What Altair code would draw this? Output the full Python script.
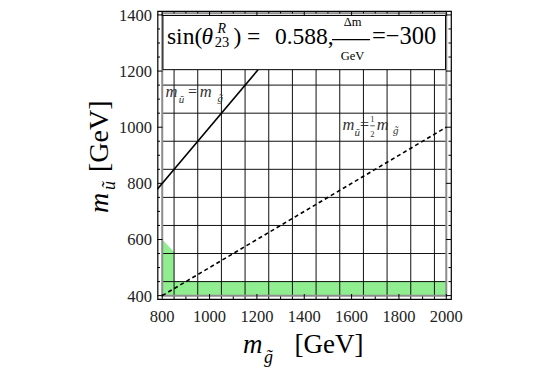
import altair as alt
import pandas as pd

# ---------------- data ----------------
X_DOMAIN = [780, 2020]
Y_DOMAIN = [388, 1414]

x_major = [800, 1000, 1200, 1400, 1600, 1800, 2000]
y_major = [400, 600, 800, 1000, 1200, 1400]
x_minor = [v for v in range(800, 2001, 50) if v not in x_major]
y_minor = [v for v in range(400, 1401, 50) if v not in y_major]

grid_x = [850, 950, 1050, 1150, 1250, 1350, 1450, 1550, 1650, 1750, 1850, 1950]
grid_y = [450, 550, 650, 750, 850, 950, 1050, 1150]
grid_x_span = [400, 1205]
grid_y_span = [800, 2000]

strip_x = [800, 2000]
strip_y = [400, 452]
corner_x = [800, 850]
corner_top = [600, 555]
corner_base = [400, 400]

equal_x = [780, 1205]
equal_y = [780, 1205]
half_x = [800, 2000]
half_y = [400, 1000]

outline_x = [800, 2000]
outline_y = [400, 1406]
box_x = [803, 1997]
box_y = [1205, 1398]

# box text: (text, x, y)
box_big = [("sin(", 820, 1295), (")", 1101, 1295), ("=", 1158, 1295),
           ("0.588,", 1276, 1295)]
box_big2 = [("=\u2212300", 1686, 1295)]
box_theta = [("\u03b8", 966, 1295)]
box_sup = [("R", 1034, 1337)]
box_sub = [("23", 1022, 1287)]
box_frac = [("\u0394m", 1604, 1361), ("GeV", 1604, 1238)]
frac_line_x = [1517, 1678]
frac_line_y = [1312, 1312]

# curve labels
lab_m = [("m", 814, 1109), ("m", 958, 1109), ("m", 1562, 989), ("m", 1706, 989)]
lab_eq = [("=", 909, 1109), ("=", 1635.5, 989)]
lab_sub = [("\u0169", 870, 1086), ("g\u0303", 1034, 1089),
           ("\u0169", 1612, 968), ("g\u0303", 1775, 975)]
lab_half = [("1", 1688, 1017), ("2", 1688, 964)]
half_bar_x = [1679, 1698]
half_bar_y = [1005, 1005]

# ---------------- chart ----------------
W, H = 293.5, 288
FONT = "Liberation Serif"
xs = alt.Scale(domain=X_DOMAIN, nice=False, zero=False)
ys = alt.Scale(domain=Y_DOMAIN, nice=False, zero=False)


def X(f="x"):
    return alt.X(f"{f}:Q", scale=xs, axis=None)


def Y(f="y"):
    return alt.Y(f"{f}:Q", scale=ys, axis=None)


GREEN = "#90ee90"

strip = alt.Chart(pd.DataFrame({"x": [strip_x[0]], "x2": [strip_x[1]],
                                "y": [strip_y[0]], "y2": [strip_y[1]]})).mark_rect(
    color=GREEN, opacity=1).encode(x=X(), x2="x2:Q", y=Y(), y2="y2:Q")

corner = alt.Chart(pd.DataFrame({"x": corner_x, "y": corner_top, "y2": corner_base})).mark_area(
    color=GREEN, opacity=1).encode(x=X(), y=Y(), y2="y2:Q")

vgrid = alt.Chart(pd.DataFrame({"x": grid_x, "y": grid_x_span[0], "y2": grid_x_span[1]})).mark_rule(
    color="#111", strokeWidth=1).encode(x=X(), y=Y(), y2="y2:Q")
hgrid = alt.Chart(pd.DataFrame({"y": grid_y, "x": grid_y_span[0], "x2": grid_y_span[1]})).mark_rule(
    color="#111", strokeWidth=1).encode(y=Y(), x=X(), x2="x2:Q")

outline = alt.Chart(pd.DataFrame({"x": [outline_x[0]], "x2": [outline_x[1]],
                                  "y": [outline_y[0]], "y2": [outline_y[1]]})).mark_rect(
    fillOpacity=0, stroke="#8c8c8c", strokeWidth=2).encode(x=X(), x2="x2:Q", y=Y(), y2="y2:Q")

equal_line = alt.Chart(pd.DataFrame({"x": equal_x, "y": equal_y})).mark_line(
    color="black", strokeWidth=1.6).encode(x=X(), y=Y())
half_line = alt.Chart(pd.DataFrame({"x": half_x, "y": half_y})).mark_line(
    color="black", strokeWidth=1.6, strokeDash=[4, 3]).encode(x=X(), y=Y())

box = alt.Chart(pd.DataFrame({"x": [box_x[0]], "x2": [box_x[1]],
                              "y": [box_y[0]], "y2": [box_y[1]]})).mark_rect(
    fill="white", stroke="black", strokeWidth=1).encode(x=X(), x2="x2:Q", y=Y(), y2="y2:Q")


def texts(rows, size, style="normal", align="left", color="black"):
    df = pd.DataFrame(rows, columns=["t", "x", "y"])
    return alt.Chart(df).mark_text(font=FONT, fontSize=size, fontStyle=style, align=align,
                                   baseline="alphabetic", color=color).encode(
        x=X(), y=Y(), text="t:N")


def seg(xv, yv, width=1.2, color="black"):
    return alt.Chart(pd.DataFrame({"x": xv, "y": yv})).mark_line(
        color=color, strokeWidth=width).encode(x=X(), y=Y())


LAB = "#333"
layers = [
    strip, corner, vgrid, hgrid, outline, equal_line, half_line, box,
    texts(box_big, 23.5), texts(box_big2, 24.5), texts(box_theta, 23.5, "italic"),
    texts(box_sup, 14, "italic"), texts(box_sub, 14.5),
    texts(box_frac, 12.5, align="center"), seg(frac_line_x, frac_line_y, 1.4),
    texts(lab_m, 16.5, "italic", color=LAB), texts(lab_eq, 16, color=LAB),
    texts(lab_sub, 11, "italic", color=LAB), texts(lab_half, 8.5, align="center", color=LAB),
    seg(half_bar_x, half_bar_y, 0.8, LAB),
]


# inward frame ticks on all four sides
def xticks(vals, length):
    dfv = pd.DataFrame({"v": vals})
    return [
        alt.Chart(dfv).mark_rule(color="black", strokeWidth=1).encode(
            x=X("v"), y=alt.value(H), y2=alt.value(H - length)),
        alt.Chart(dfv).mark_rule(color="black", strokeWidth=1).encode(
            x=X("v"), y=alt.value(0), y2=alt.value(length)),
    ]


def yticks(vals, length):
    dfv = pd.DataFrame({"v": vals})
    return [
        alt.Chart(dfv).mark_rule(color="black", strokeWidth=1).encode(
            y=Y("v"), x=alt.value(0), x2=alt.value(length)),
        alt.Chart(dfv).mark_rule(color="black", strokeWidth=1).encode(
            y=Y("v"), x=alt.value(W), x2=alt.value(W - length)),
    ]


layers += xticks(x_major, 5) + xticks(x_minor, 2.5) + yticks(y_major, 5) + yticks(y_minor, 2.5)

# tick labels (serif, like the reference)
layers += [
    alt.Chart(pd.DataFrame({"v": x_major})).mark_text(
        font=FONT, fontSize=16.5, color="#222", align="center", baseline="middle").encode(
        x=X("v"), y=alt.value(H + 17.5), text=alt.Text("v:Q", format="d")),
    alt.Chart(pd.DataFrame({"v": y_major})).mark_text(
        font=FONT, fontSize=16.5, color="#222", align="right", baseline="middle", dy=1).encode(
        y=Y("v"), x=alt.value(-5.5), text=alt.Text("v:Q", format="d")),
]

# axis titles (composed with italic symbol and subscript)
one = pd.DataFrame({"t": [""]})


def title_piece(txt, px, py, size, style="normal", angle=0):
    kw = dict(font=FONT, fontSize=size, fontStyle=style, align="left",
              baseline="alphabetic", color="black", text=txt)
    if angle:
        kw["angle"] = angle
    return alt.Chart(one).mark_text(**kw).encode(x=alt.value(px), y=alt.value(py))


layers += [
    title_piece("m", 85.5, 342, 27, "italic"),
    title_piece("g\u0303", 106.5, 352, 18, "italic"),
    title_piece("[GeV]", 137, 342, 27),
    title_piece("m", -50, 202, 28, "italic", 270),
    title_piece("\u0169", -43, 179, 18, "italic", 270),
    title_piece("[GeV]", -50, 161, 28, "normal", 270),
]

chart = alt.layer(*layers).properties(
    width=W, height=H,
    autosize=alt.AutoSizeParams(type="none"),
    padding={"left": 149.5, "top": 3, "right": 79, "bottom": 70},
).configure_view(stroke="black", strokeWidth=1.2)

chart.save("out.html", embed_options={"renderer": "svg", "actions": False})
